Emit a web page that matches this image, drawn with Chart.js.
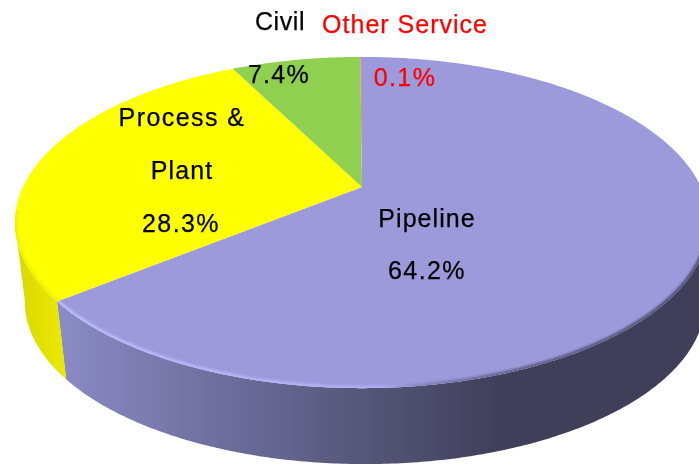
<!DOCTYPE html>
<html><head><meta charset="utf-8">
<script src="https://cdn.jsdelivr.net/npm/chart.js@4"></script>
<style>html,body{margin:0;padding:0;background:#fff}canvas{display:block;filter:blur(.35px)}</style>
</head><body><canvas id="c" width="699" height="464"></canvas>
<script>
const categories = ['Pipeline','Process & Plant','Civil','Other Service'];
const shareValues = [64.2,28.3,7.4,0.1];
const sliceColors = ['#9c9adb','#ffff00','#90d050','#c890a0'];

const K=.2145,A=339,B=158,CX=362,CY=187;
function proj(t,scale,dy,dx){
  const u=Math.cos(t),v=Math.sin(t),d=1-K*v;
  return [CX+dx+scale*A*u/d, CY+dy+scale*B*v/d];
}
function arcPts(ctx,a,b,scale,dy,dx,first){
  const n=Math.max(2,Math.ceil(Math.abs(b-a)/.01));
  for(let i=0;i<=n;i++){
    const p=proj(a+(b-a)*i/n,scale,dy,dx);
    (i===0&&first)?ctx.moveTo(p[0],p[1]):ctx.lineTo(p[0],p[1]);
  }
}
function grad(ctx,x0,x1,stops){
  const g=ctx.createLinearGradient(x0,0,x1,0);
  stops.forEach(s=>g.addColorStop(s[0],s[1]));
  return g;
}
const DEPTH=80,BOT=.98,SHIFT=3,VIS_FROM=.2,VIS_TO=2.93;
const wallFill=[
  ctx=>grad(ctx,62,520,[[0,'#8a8ac6'],[.2,'#7a7aac'],[.4,'#6a6a98'],[.68,'#545476'],[.95,'#40405c'],[1,'#3f3f5a']]),
  ctx=>grad(ctx,15,70,[[0,'#d8d800'],[1,'#eeea00']]),
  ()=>'#7aa844',()=>'#a05070'
];
function facePath(ctx,e){
  ctx.beginPath();ctx.moveTo(CX,CY);
  arcPts(ctx,e.startAngle,e.endAngle,1,0,0,false);
  ctx.closePath();
}
function rim(ctx,e,a,b,style){
  ctx.save();
  facePath(ctx,e);ctx.clip();
  ctx.filter='blur(1px)';
  ctx.beginPath();arcPts(ctx,a,b,1,0,0,true);
  ctx.lineWidth=5;ctx.strokeStyle=style;ctx.stroke();
  ctx.restore();
}
const pie3d={
  id:'pie3d',
  beforeDatasetDraw(chart){
    const ctx=chart.ctx,arcs=chart.getDatasetMeta(0).data;
    ctx.save();
    arcs.forEach((e,i)=>{
      const a=Math.max(e.startAngle,VIS_FROM),b=Math.min(e.endAngle,VIS_TO);
      if(b<=a) return;
      ctx.beginPath();
      arcPts(ctx,a,b,1,0,0,true);
      arcPts(ctx,b,a,BOT,DEPTH,SHIFT,false);
      ctx.closePath();
      ctx.fillStyle=wallFill[i](ctx);
      ctx.fill();
    });
    arcs.forEach(e=>{
      facePath(ctx,e);
      ctx.fillStyle=e.options.backgroundColor;
      ctx.fill();
    });
    const p=arcs[0],y=arcs[1];
    rim(ctx,p,.15,p.endAngle,grad(ctx,60,700,[[0,'rgba(190,190,255,.95)'],[.5,'rgba(180,180,250,.8)'],[.58,'rgba(110,110,160,.6)'],[.7,'rgba(60,60,90,.6)'],[1,'rgba(60,60,90,.8)']]));
    rim(ctx,y,y.startAngle,3.0,'rgba(225,225,0,.5)');
    ctx.restore();
    return false;
  },
  afterDatasetsDraw(chart){
    const ctx=chart.ctx;
    const pct=i=>shareValues[i].toFixed(1)+'%';
    const texts=[
      ['Civil',280,23,'#000','.6px'],
      [categories[3],405,26,'#f00','1px'],
      [pct(2),279,76,'#000','1.3px'],
      [pct(3),405,79,'#f00','1.4px'],
      ['Process &',182,119,'#000','1.45px'],
      ['Plant',182,172,'#000','1.1px'],
      [pct(1),181,225,'#000','1.4px'],
      [categories[0],427,220,'#000','1.05px'],
      [pct(0),427,272,'#000','1.4px']
    ];
    ctx.save();
    ctx.font='25px "Liberation Sans", Arial, sans-serif';
    ctx.textAlign='center';ctx.textBaseline='middle';
    ctx.lineWidth=.25;
    texts.forEach(t=>{
      ctx.fillStyle=t[3];ctx.strokeStyle=t[3];ctx.letterSpacing=t[4];
      ctx.fillText(t[0],t[1],t[2]);ctx.strokeText(t[0],t[1],t[2]);
    });
    ctx.restore();
  }
};
new Chart(document.getElementById('c'),{
  type:'pie',
  data:{labels:categories,datasets:[{data:shareValues,backgroundColor:sliceColors,borderWidth:0}]},
  options:{responsive:false,animation:false,
    plugins:{legend:{display:false},tooltip:{enabled:false}}},
  plugins:[pie3d]
});
</script></body></html>
